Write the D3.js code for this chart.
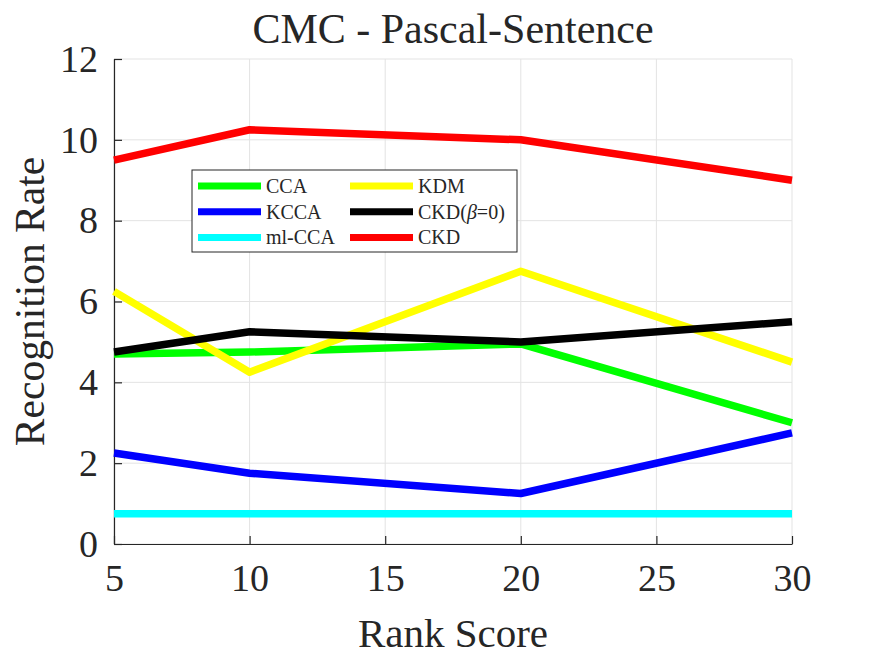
<!DOCTYPE html>
<html>
<head>
<meta charset="utf-8">
<script src="https://cdn.jsdelivr.net/npm/d3@7"></script>
<style>
  body { margin: 0; background: #fff; }
  svg text { font-family: "Times New Roman", Times, "Liberation Serif", serif; fill: #262626; }
</style>
</head>
<body>
<div id="chart"></div>
<script>
// Rank positions where the curves were measured
const rankScores = [5, 10, 20, 30];

// One array per method (recognition rate)
const ccaValues = [4.7, 4.75, 4.95, 3.0];
const kccaValues = [2.25, 1.75, 1.25, 2.75];
const mlccaValues = [0.75, 0.75, 0.75, 0.75];
const kdmValues = [6.25, 4.25, 6.75, 4.5];
const ckdBeta0Values = [4.75, 5.25, 5.0, 5.5];
const ckdValues = [9.5, 10.25, 10.0, 9.0];

const seriesNames = ["CCA", "KCCA", "ml-CCA", "KDM", "CKD(β=0)", "CKD"];
const seriesColors = ["#00ff00", "#0000ff", "#00ffff", "#ffff00", "#000000", "#ff0000"];

const xTicks = [5, 10, 15, 20, 25, 30];
const yTicks = [0, 2, 4, 6, 8, 10, 12];

const allValues = [ccaValues, kccaValues, mlccaValues, kdmValues, ckdBeta0Values, ckdValues];

const serif = "'Times New Roman', Times, 'Liberation Serif', serif";

const width = 875, height = 657;
const margin = { top: 59, right: 83, bottom: 113, left: 114 };
const innerWidth = width - margin.left - margin.right;
const innerHeight = height - margin.top - margin.bottom;

const svg = d3.select("#chart").append("svg")
    .attr("width", width)
    .attr("height", height)
    .style("font-family", serif);

const g = svg.append("g")
    .attr("transform", `translate(${margin.left},${margin.top})`);

const xScale = d3.scaleLinear().domain([5, 30]).range([0, innerWidth]);
const yScale = d3.scaleLinear().domain([0, 12]).range([innerHeight, 0]);

// grid
g.selectAll(".gx").data(xTicks).enter().append("line")
    .attr("x1", d => xScale(d)).attr("x2", d => xScale(d))
    .attr("y1", 0).attr("y2", innerHeight)
    .attr("stroke", "#e3e3e3").attr("stroke-width", 1);
g.selectAll(".gy").data(yTicks).enter().append("line")
    .attr("x1", 0).attr("x2", innerWidth)
    .attr("y1", d => yScale(d)).attr("y2", d => yScale(d))
    .attr("stroke", "#e3e3e3").attr("stroke-width", 1);

// axes (ticks point inward like MATLAB)
const xAxis = g.append("g")
    .attr("transform", `translate(0,${innerHeight})`)
    .call(d3.axisBottom(xScale).tickValues(xTicks).tickSizeInner(-8).tickSizeOuter(0).tickPadding(20));
const yAxis = g.append("g")
    .call(d3.axisLeft(yScale).tickValues(yTicks).tickSizeInner(-8).tickSizeOuter(0).tickPadding(16));

[xAxis, yAxis].forEach(ax => {
    ax.attr("font-family", null).attr("font-size", null);
    ax.select(".domain").attr("stroke", "#262626").attr("stroke-width", 1.2);
    ax.selectAll(".tick line").attr("stroke", "#262626").attr("stroke-width", 1.2);
    ax.selectAll("text")
        .style("font-family", serif)
        .style("font-size", "38px")
        .attr("fill", "#262626");
});
xAxis.selectAll("text").attr("dy", "0.71em");

// lines
const line = d3.line()
    .x((d, i) => xScale(rankScores[i]))
    .y(d => yScale(d));

allValues.forEach((vals, i) => {
    g.append("path")
        .datum(vals)
        .attr("fill", "none")
        .attr("stroke", seriesColors[i])
        .attr("stroke-width", 7.5)
        .attr("stroke-linejoin", "round")
        .attr("d", line);
});

// title and labels
svg.append("text")
    .attr("x", margin.left + innerWidth / 2)
    .attr("y", 43)
    .attr("text-anchor", "middle")
    .style("font-size", "42px")
    .text("CMC - Pascal-Sentence");

svg.append("text")
    .attr("x", margin.left + innerWidth / 2)
    .attr("y", 647)
    .attr("text-anchor", "middle")
    .style("font-size", "41px")
    .text("Rank Score");

svg.append("text")
    .attr("transform", `translate(44,${margin.top + innerHeight / 2}) rotate(-90)`)
    .attr("text-anchor", "middle")
    .style("font-size", "41.5px")
    .text("Recognition Rate");

// legend
const legendX = 192, legendY = 170;
const legend = svg.append("g").attr("transform", `translate(${legendX},${legendY})`);
legend.append("rect")
    .attr("width", 325).attr("height", 82)
    .attr("fill", "#fff").attr("stroke", "#262626").attr("stroke-width", 1);

seriesNames.forEach((name, i) => {
    const col = Math.floor(i / 3), row = i % 3;
    const lx = 6 + col * 152;
    const ly = 16 + row * 25.7;
    legend.append("line")
        .attr("x1", lx).attr("x2", lx + 63)
        .attr("y1", ly).attr("y2", ly)
        .attr("stroke", seriesColors[i]).attr("stroke-width", 7);
    const t = legend.append("text")
        .attr("x", lx + 68).attr("y", ly)
        .attr("dy", "0.35em")
        .style("font-size", "20px");
    if (name.includes("β")) {
        t.append("tspan").text("CKD(");
        t.append("tspan").style("font-style", "italic").text("β");
        t.append("tspan").text("=0)");
    } else {
        t.text(name);
    }
});
</script>
</body>
</html>
